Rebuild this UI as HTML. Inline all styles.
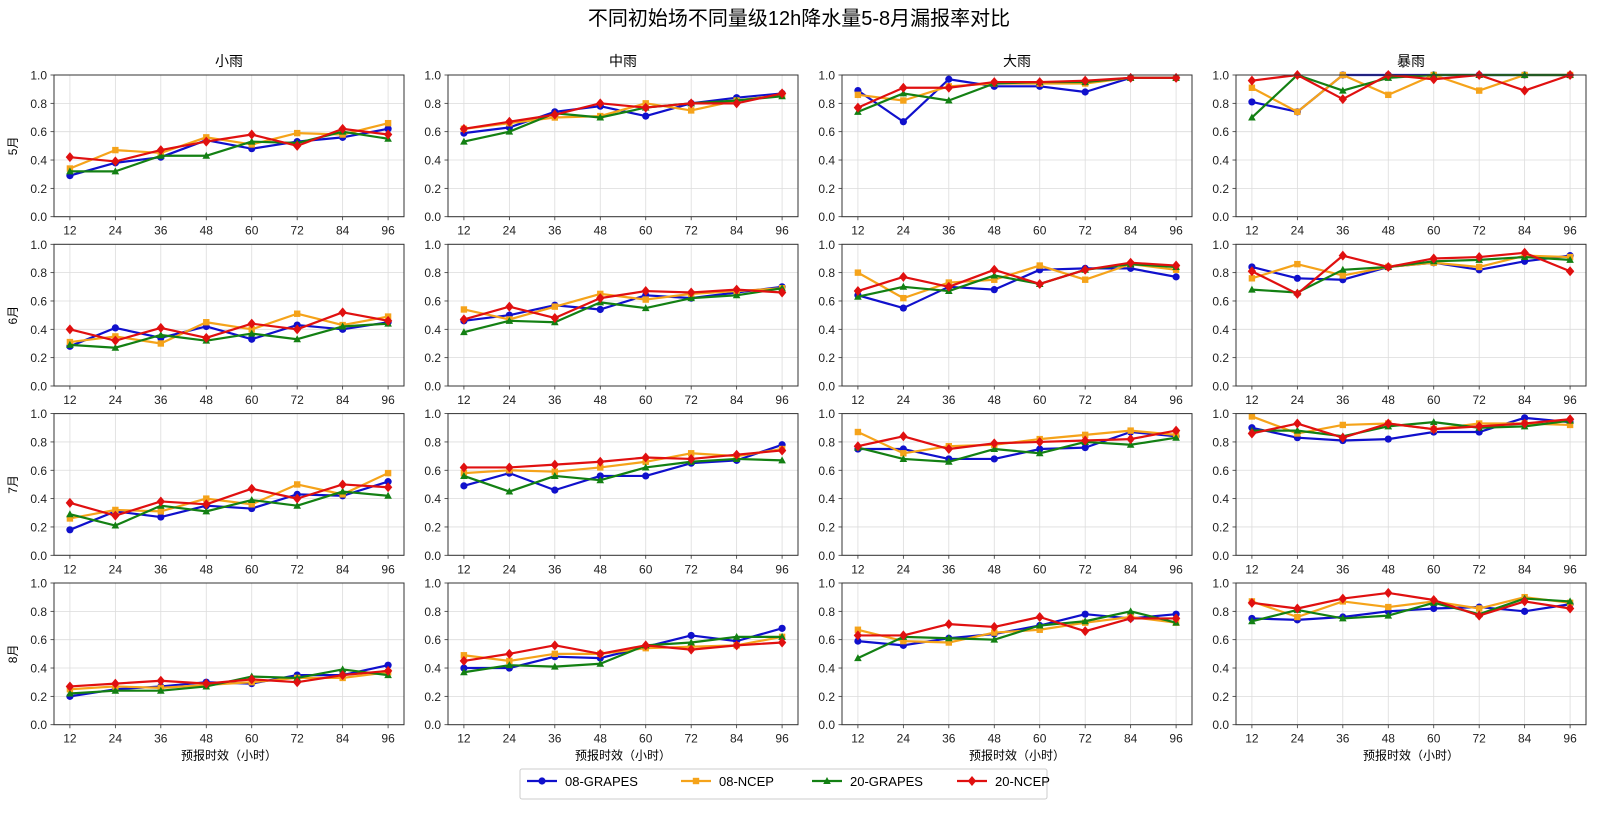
<!DOCTYPE html>
<html><head><meta charset="utf-8">
<style>
html,body{margin:0;padding:0;background:#fff;}
body{width:1598px;height:810px;overflow:hidden;font-family:"Liberation Sans","WenQuanYi Zen Hei",sans-serif;}
svg text{font-family:"WenQuanYi Zen Hei","Liberation Sans","Noto Sans CJK SC",sans-serif;}
</style></head>
<body>
<svg id="chart" width="1598" height="810" viewBox="0 0 1598 810" xmlns="http://www.w3.org/2000/svg">
<text x="799" y="25" text-anchor="middle" font-size="20" fill="#000">不同初始场不同量级12h降水量5-8月漏报率对比</text>
</svg>
<script>
const categories = [12,24,36,48,60,72,84,96];
const yTicks = [0,0.2,0.4,0.6,0.8,1.0];
const yTickLabels = ["0.0","0.2","0.4","0.6","0.8","1.0"];
const levels = ["小雨","中雨","大雨","暴雨"];
const months = ["5月","6月","7月","8月"];
const seriesNames = ["08-GRAPES","08-NCEP","20-GRAPES","20-NCEP"];

// May
const m5_l1_08G = [.29,.38,.42,.54,.48,.53,.56,.62];
const m5_l1_08N = [.34,.47,.45,.56,.51,.59,.58,.66];
const m5_l1_20G = [.32,.32,.43,.43,.53,.52,.60,.55];
const m5_l1_20N = [.42,.39,.47,.53,.58,.50,.62,.58];
const m5_l2_08G = [.59,.63,.74,.78,.71,.80,.84,.87];
const m5_l2_08N = [.62,.66,.70,.71,.80,.75,.82,.86];
const m5_l2_20G = [.53,.60,.73,.70,.77,.80,.82,.85];
const m5_l2_20N = [.62,.67,.72,.80,.77,.80,.80,.87];
const m5_l3_08G = [.89,.67,.97,.92,.92,.88,.98,.98];
const m5_l3_08N = [.86,.82,.92,.94,.94,.94,.98,.98];
const m5_l3_20G = [.74,.87,.82,.94,.95,.95,.98,.98];
const m5_l3_20N = [.77,.91,.91,.95,.95,.96,.98,.98];
const m5_l4_08G = [.81,.74,1,1,1,1,1,1];
const m5_l4_08N = [.91,.74,1,.86,1,.89,1,1];
const m5_l4_20G = [.70,1,.89,.98,1,1,1,1];
const m5_l4_20N = [.96,1,.83,1,.97,1,.89,1];
// June
const m6_l1_08G = [.28,.41,.34,.42,.33,.43,.40,.45];
const m6_l1_08N = [.31,.35,.30,.45,.40,.51,.43,.49];
const m6_l1_20G = [.29,.27,.36,.32,.37,.33,.42,.44];
const m6_l1_20N = [.40,.32,.41,.34,.44,.40,.52,.46];
const m6_l2_08G = [.46,.50,.57,.54,.64,.62,.66,.70];
const m6_l2_08N = [.54,.47,.56,.65,.61,.65,.67,.69];
const m6_l2_20G = [.38,.46,.45,.59,.55,.62,.64,.69];
const m6_l2_20N = [.47,.56,.48,.62,.67,.66,.68,.66];
const m6_l3_08G = [.64,.55,.70,.68,.82,.83,.83,.77];
const m6_l3_08N = [.80,.62,.73,.75,.85,.75,.86,.82];
const m6_l3_20G = [.63,.70,.67,.78,.72,.82,.86,.84];
const m6_l3_20N = [.67,.77,.70,.82,.72,.82,.87,.85];
const m6_l4_08G = [.84,.76,.75,.84,.87,.82,.88,.92];
const m6_l4_08N = [.76,.86,.78,.84,.87,.84,.92,.91];
const m6_l4_20G = [.68,.66,.82,.84,.88,.89,.91,.89];
const m6_l4_20N = [.81,.65,.92,.84,.90,.91,.94,.81];
// July
const m7_l1_08G = [.18,.31,.27,.35,.33,.43,.42,.52];
const m7_l1_08N = [.26,.32,.31,.40,.36,.50,.43,.58];
const m7_l1_20G = [.29,.21,.35,.31,.39,.35,.45,.42];
const m7_l1_20N = [.37,.28,.38,.36,.47,.40,.50,.48];
const m7_l2_08G = [.49,.58,.46,.56,.56,.65,.67,.78];
const m7_l2_08N = [.58,.60,.59,.62,.66,.72,.70,.75];
const m7_l2_20G = [.56,.45,.56,.53,.62,.66,.68,.67];
const m7_l2_20N = [.62,.62,.64,.66,.69,.68,.71,.74];
const m7_l3_08G = [.75,.75,.68,.68,.75,.76,.87,.84];
const m7_l3_08N = [.87,.72,.77,.78,.82,.85,.88,.85];
const m7_l3_20G = [.76,.68,.66,.75,.72,.80,.78,.83];
const m7_l3_20N = [.77,.84,.75,.79,.80,.81,.82,.88];
const m7_l4_08G = [.90,.83,.81,.82,.87,.87,.97,.94];
const m7_l4_08N = [.98,.86,.92,.93,.89,.93,.93,.92];
const m7_l4_20G = [.88,.88,.84,.91,.94,.90,.91,.95];
const m7_l4_20N = [.86,.93,.83,.93,.89,.91,.93,.96];
// August
const m8_l1_08G = [.20,.25,.27,.30,.29,.35,.35,.42];
const m8_l1_08N = [.25,.27,.26,.28,.30,.33,.33,.37];
const m8_l1_20G = [.22,.24,.24,.27,.34,.33,.39,.35];
const m8_l1_20N = [.27,.29,.31,.29,.32,.30,.35,.38];
const m8_l2_08G = [.40,.40,.48,.47,.55,.63,.59,.68];
const m8_l2_08N = [.49,.45,.50,.50,.54,.55,.56,.62];
const m8_l2_20G = [.37,.42,.41,.43,.56,.58,.62,.62];
const m8_l2_20N = [.45,.50,.56,.50,.56,.53,.56,.58];
const m8_l3_08G = [.59,.56,.61,.64,.70,.78,.75,.78];
const m8_l3_08N = [.67,.59,.58,.65,.67,.72,.76,.72];
const m8_l3_20G = [.47,.62,.61,.60,.70,.73,.80,.72];
const m8_l3_20N = [.63,.63,.71,.69,.76,.66,.75,.75];
const m8_l4_08G = [.75,.74,.76,.80,.82,.83,.80,.85];
const m8_l4_08N = [.87,.76,.87,.83,.87,.82,.90,.86];
const m8_l4_20G = [.73,.81,.75,.77,.86,.78,.89,.87];
const m8_l4_20N = [.86,.82,.89,.93,.88,.77,.87,.82];

const panelData = [
 [[m5_l1_08G,m5_l1_08N,m5_l1_20G,m5_l1_20N],[m5_l2_08G,m5_l2_08N,m5_l2_20G,m5_l2_20N],[m5_l3_08G,m5_l3_08N,m5_l3_20G,m5_l3_20N],[m5_l4_08G,m5_l4_08N,m5_l4_20G,m5_l4_20N]],
 [[m6_l1_08G,m6_l1_08N,m6_l1_20G,m6_l1_20N],[m6_l2_08G,m6_l2_08N,m6_l2_20G,m6_l2_20N],[m6_l3_08G,m6_l3_08N,m6_l3_20G,m6_l3_20N],[m6_l4_08G,m6_l4_08N,m6_l4_20G,m6_l4_20N]],
 [[m7_l1_08G,m7_l1_08N,m7_l1_20G,m7_l1_20N],[m7_l2_08G,m7_l2_08N,m7_l2_20G,m7_l2_20N],[m7_l3_08G,m7_l3_08N,m7_l3_20G,m7_l3_20N],[m7_l4_08G,m7_l4_08N,m7_l4_20G,m7_l4_20N]],
 [[m8_l1_08G,m8_l1_08N,m8_l1_20G,m8_l1_20N],[m8_l2_08G,m8_l2_08N,m8_l2_20G,m8_l2_20N],[m8_l3_08G,m8_l3_08N,m8_l3_20G,m8_l3_20N],[m8_l4_08G,m8_l4_08N,m8_l4_20G,m8_l4_20N]]
];

const NS = "http://www.w3.org/2000/svg";
const svg = document.getElementById('chart');
const colors = ["#1010cc","#f5a31a","#138013","#e01010"];
const markerKinds = ["circle","square","triangle","diamond"];
const colLeft = [54,448,842,1236], panelW = 350;
const rowTop = [75,244.3,413.6,583], panelH = 141.7;

function mk(tag, attrs, parent){
  const e = document.createElementNS(NS, tag);
  for (const k in attrs) e.setAttribute(k, attrs[k]);
  (parent||svg).appendChild(e);
  return e;
}
function marker(kind, x, y, color, parent){
  let e;
  if (kind==="circle") e = mk('circle',{cx:x,cy:y,r:3.6,fill:color},parent);
  else if (kind==="square") e = mk('rect',{x:x-3.2,y:y-3.2,width:6.4,height:6.4,fill:color},parent);
  else if (kind==="triangle") e = mk('polygon',{points:`${x},${y-4} ${x+3.8},${y+3} ${x-3.8},${y+3}`,fill:color},parent);
  else e = mk('polygon',{points:`${x},${y-5} ${x+4.2},${y} ${x},${y+5} ${x-4.2},${y}`,fill:color},parent);
  return e;
}

const xMin = 12 - 4.2, xMax = 96 + 4.2;
for (let r=0;r<4;r++){
  for (let c=0;c<4;c++){
    const L = colLeft[c], T = rowTop[r];
    const xs = v => L + (v - xMin)/(xMax - xMin)*panelW;
    const ys = v => T + panelH - v*panelH;
    const g = mk('g',{});
    
    
    // grid
    categories.forEach(v=>{
      const l = mk('line',{x1:xs(v),x2:xs(v),y1:T,y2:T+panelH,stroke:"#dcdcdc","stroke-width":0.8},g);
      
      
    });
    yTicks.forEach((v,i)=>{
      const l = mk('line',{x1:L,x2:L+panelW,y1:ys(v),y2:ys(v),stroke:"#dcdcdc","stroke-width":0.8},g);
      
      
      const tk = mk('line',{x1:L-3.5,x2:L,y1:ys(v),y2:ys(v),stroke:"#333","stroke-width":0.8},g);
      
      
      const t = mk('text',{x:L-7,y:ys(v)+4.5,"text-anchor":"end","font-size":12,fill:"#222"},g);
      t.textContent = yTickLabels[i];
      
      
    });
    categories.forEach(v=>{
      const tk = mk('line',{x1:xs(v),x2:xs(v),y1:T+panelH,y2:T+panelH+3.5,stroke:"#333","stroke-width":0.8},g);
      
      
      const t = mk('text',{x:xs(v),y:T+panelH+18,"text-anchor":"middle","font-size":12,fill:"#222"},g);
      t.textContent = String(v);
      
      
    });
    // series
    const sets = panelData[r][c];
    sets.forEach((vals,si)=>{
      const sg = mk('g',{},g);
      
      
      const pts = vals.map((v,i)=>xs(categories[i])+','+ys(v)).join(' ');
      const pl = mk('polyline',{points:pts,fill:"none",stroke:colors[si],"stroke-width":2.2,"stroke-linejoin":"round"},sg);
      
      
      vals.forEach((v,i)=>{
        const m = marker(markerKinds[si], xs(categories[i]), ys(v), colors[si], sg);
        
        
      });
    });
    // frame
    const fr = mk('rect',{x:L,y:T,width:panelW,height:panelH,fill:"none",stroke:"#333","stroke-width":1},g);
    
    
    if (r===0){
      const t = mk('text',{x:L+panelW/2,y:T-9,"text-anchor":"middle","font-size":14,fill:"#000"});
      t.textContent = levels[c];
      
      
    }
    if (c===0){
      const t = mk('text',{x:0,y:0,"text-anchor":"middle","font-size":12,fill:"#000",transform:`translate(17,${T+panelH/2}) rotate(-90)`});
      t.textContent = months[r];
      
      
    }
    if (r===3){
      const t = mk('text',{x:L+panelW/2,y:T+panelH+35,"text-anchor":"middle","font-size":12,fill:"#000"});
      t.textContent = "预报时效（小时）";
      
      
    }
  }
}

// legend
const lg = mk('g',{});


const lb = mk('rect',{x:520,y:769,width:527,height:30,rx:2,fill:"#fff",stroke:"#ccc","stroke-width":1},lg);


const legX = [527,681,812,957];
seriesNames.forEach((n,i)=>{
  const eg = mk('g',{},lg);
  
  
  const y = 781;
  mk('line',{x1:legX[i],x2:legX[i]+30,y1:y,y2:y,stroke:colors[i],"stroke-width":2.2},eg);
  marker(markerKinds[i], legX[i]+15, y, colors[i], eg);
  const t = mk('text',{x:legX[i]+38,y:y+5,"font-size":13,fill:"#000"},eg);
  t.textContent = n;
  
  
});
</script>
</body></html>
